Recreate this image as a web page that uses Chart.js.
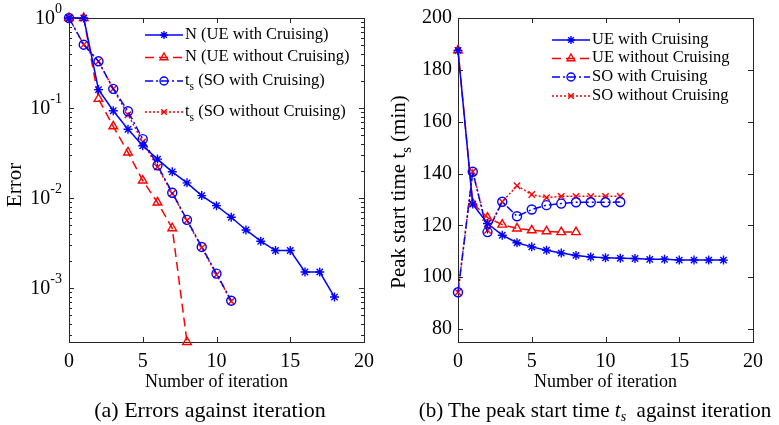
<!DOCTYPE html>
<html>
<head>
<meta charset="utf-8">
<script src="https://cdn.jsdelivr.net/npm/chart.js@4.4.1/dist/chart.umd.min.js"></script>
<style>
body{margin:0;background:#fff;width:779px;height:425px;overflow:hidden;position:relative;font-family:'Liberation Serif','Times New Roman',serif}
#ca{position:absolute;left:0;top:0}
#cb{position:absolute;left:390px;top:0}
.cap{position:absolute;top:397px;font-size:22px;line-height:26px;white-space:nowrap;transform:translateX(-50%);color:#000}
.cap sub{font-size:14px;vertical-align:-4px}
</style>
</head>
<body>
<canvas id="ca" width="390" height="425"></canvas>
<canvas id="cb" width="389" height="425"></canvas>
<div class="cap" style="left:210px">(a) Errors against iteration</div>
<div class="cap" style="left:595px;font-size:21px">(b) The peak start time <i>t<sub>s</sub></i>&nbsp; against iteration</div>
<script>
const FONT = "'Liberation Serif', 'Times New Roman', serif";
const BLUE = '#0000ff', RED = '#ff0000';

// ---- (a) errors ----
const labelsA = ['N (UE with Cruising)', 'N (UE without Cruising)', 't_s (SO with Cruising)', 't_s (SO without Cruising)'];
const iterUE = [0,1,2,3,4,5,6,7,8,9,10,11,12,13,14,15,16,17,18];
const errUE = [1, 1, 0.16, 0.093, 0.058, 0.038, 0.027, 0.0195, 0.0147, 0.0106, 0.0082, 0.0061, 0.0044, 0.0033, 0.0026, 0.0026, 0.0015, 0.0015, 0.00079];
const iterUEnc = [0,1,2,3,4,5,6,7,8];
const errUEnc = [1, 1, 0.126, 0.0625, 0.032, 0.0156, 0.0089, 0.0046, 0.00025];
const iterSO = [0,1,2,3,4,5,6,7,8,9,10,11];
const errSO = [1, 0.505, 0.33, 0.163, 0.092, 0.045, 0.023, 0.0114, 0.0057, 0.00285, 0.00144, 0.00072];
const errSOnc = [1, 0.505, 0.33, 0.163, 0.084, 0.042, 0.022, 0.0112, 0.0056, 0.0028, 0.0014, 0.00071];
const logTicks = [0.001, 0.01, 0.1, 1];

// ---- (b) peak start time ----
const labelsB = ['UE with Cruising', 'UE without Cruising', 'SO with Cruising', 'SO without Cruising'];
const tsUE = [187.5, 128.2, 120.7, 116.2, 113.3, 111.7, 110.4, 109.3, 108.4, 107.8, 107.5, 107.3, 107.2, 106.9, 106.9, 106.6, 106.6, 106.6, 106.6];
const tsUEnc = [187.5, 128.5, 123.0, 120.3, 118.8, 118.1, 117.7, 117.4, 117.4];
const tsSO = [94.2, 140.7, 117.4, 129.1, 123.5, 126.1, 127.8, 128.4, 128.9, 128.9, 128.9, 129.0];
const tsSOnc = [94.2, 140.7, 118.1, 129.1, 135.3, 131.9, 130.7, 131.2, 131.2, 131.2, 131.2, 131.3];
const yTicksB = [80, 100, 120, 140, 160, 180, 200];
const xTicks = [0, 5, 10, 15, 20];

const styles = [
  {color: BLUE, dash: [], point: 'star', r: 4.5},
  {color: RED, dash: [9, 5], point: 'triangle', r: 5},
  {color: BLUE, dash: [8, 3, 2, 3], point: 'circle', r: 4.5},
  {color: RED, dash: [2, 2], point: 'crossRot', r: 4.5}
];

function ds(label, xs, ys, s){
  return {label, data: xs.map((x,i)=>({x, y: ys[i]})), borderColor: s.color, backgroundColor: 'rgba(0,0,0,0)',
    borderDash: s.dash, borderWidth: 1.5, pointStyle: s.point, pointRadius: s.r, pointBorderColor: s.color,
    pointBackgroundColor: 'rgba(0,0,0,0)', pointBorderWidth: 1.4, tension: 0, fill: false, clip: false};
}

// text with "_s" subscripts
function richParts(str){
  const out = []; const bits = str.split('_s');
  bits.forEach((b,i)=>{ if(b) out.push({t:b, sub:false}); if(i<bits.length-1) out.push({t:'s', sub:true}); });
  return out;
}
function drawRich(ctx, str, x, y, fs, align){
  const parts = richParts(str);
  let w = 0;
  parts.forEach(p=>{ ctx.font = (p.sub ? fs*0.7 : fs) + 'px ' + FONT; p.w = ctx.measureText(p.t).width; w += p.w; });
  let cx = align === 'center' ? x - w/2 : x;
  ctx.textAlign = 'left'; ctx.textBaseline = 'middle';
  parts.forEach(p=>{
    ctx.font = (p.sub ? fs*0.7 : fs) + 'px ' + FONT;
    ctx.fillText(p.t, cx, p.sub ? y + fs*0.38 : y);
    cx += p.w;
  });
}

const matlabAxes = {
  id: 'matlabAxes',
  beforeDatasetsDraw(chart, args, o){
    const ctx = chart.ctx, a = chart.chartArea, xs = chart.scales.x, ys = chart.scales.y;
    ctx.save();
    ctx.strokeStyle = '#262626'; ctx.lineWidth = 1; ctx.setLineDash([]);
    ctx.strokeRect(a.left + 0.5, a.top + 0.5, a.right - a.left, a.bottom - a.top);
    ctx.beginPath();
    xs.ticks.forEach(t=>{ const px = Math.round(xs.getPixelForValue(t.value)) + 0.5;
      ctx.moveTo(px, a.bottom); ctx.lineTo(px, a.bottom - 5); ctx.moveTo(px, a.top); ctx.lineTo(px, a.top + 5); });
    ys.ticks.forEach(t=>{ const py = Math.round(ys.getPixelForValue(t.value)) + 0.5;
      ctx.moveTo(a.left, py); ctx.lineTo(a.left + 5, py); ctx.moveTo(a.right, py); ctx.lineTo(a.right - 5, py); });
    if (o.log){
      for (let d = -4; d <= 0; d++) for (let k = 2; k <= 9; k++){
        const v = k * Math.pow(10, d);
        if (v < ys.min || v > ys.max) continue;
        const py = Math.round(ys.getPixelForValue(v)) + 0.5;
        ctx.moveTo(a.left, py); ctx.lineTo(a.left + 3, py); ctx.moveTo(a.right, py); ctx.lineTo(a.right - 3, py);
      }
    }
    ctx.stroke();
    ctx.fillStyle = '#000';
    if (o.log){
      ys.ticks.forEach(t=>{
        const py = ys.getPixelForValue(t.value);
        const e = String(Math.round(Math.log10(t.value)));
        ctx.textAlign = 'right'; ctx.textBaseline = 'middle';
        ctx.font = '14px ' + FONT; const ew = ctx.measureText(e).width;
        ctx.fillText(e, a.left - 7, py - 9);
        ctx.font = '20px ' + FONT;
        ctx.fillText('10', a.left - 7 - ew, py + 1);
      });
    }
    // axis titles
    drawRich(ctx, o.xTitle, (a.left + a.right)/2, 382, 18, 'center');
    ctx.save(); ctx.translate(o.yTitleX, o.yTitleY); ctx.rotate(-Math.PI/2);
    drawRich(ctx, o.yTitle, 0, 0, o.yTitleSize, 'center');
    ctx.restore();
    ctx.restore();
  },
  afterDraw(chart, args, o){
    const ctx = chart.ctx;
    ctx.save();
    chart.data.datasets.forEach((d, i)=>{
      const s = styles[i], y = o.legendRows[i];
      ctx.strokeStyle = s.color; ctx.lineWidth = 1.5; ctx.setLineDash(s.dash);
      ctx.beginPath(); ctx.moveTo(o.legendX0, y); ctx.lineTo(o.legendX1, y); ctx.stroke();
      ctx.setLineDash([]);
      ctx.fillStyle = 'rgba(0,0,0,0)'; ctx.lineWidth = 1.4;
      Chart.helpers.drawPoint(ctx, {pointStyle: s.point, radius: s.r - 0.5, borderWidth: 1.4, rotation: 0}, (o.legendX0 + o.legendX1)/2, y);
      ctx.fillStyle = '#000';
      drawRich(ctx, d.label, o.legendX1 + 2, y - 0.5, o.legendSize, 'left');
    });
    ctx.restore();
  }
};

function makeChart(id, datasets, yScale, plug, padRight){
  return new Chart(document.getElementById(id), {
    type: 'line',
    data: {datasets},
    options: {
      responsive: false, animation: false, devicePixelRatio: 1,
      layout: {padding: {top: 18, right: padRight, left: 0, bottom: 0}},
      plugins: {legend: {display: false}, tooltip: {enabled: false}, matlabAxes: plug},
      scales: {
        x: {type: 'linear', min: 0, max: 20,
          afterBuildTicks: s => { s.ticks = xTicks.map(v=>({value: v})); },
          afterFit: s => { s.height = 83; },
          grid: {display: false, drawTicks: false}, border: {display: false},
          ticks: {color: '#000', font: {family: FONT, size: 20}, padding: 8, maxRotation: 0}},
        y: yScale
      }
    },
    plugins: [matlabAxes]
  });
}

makeChart('ca', [
  ds(labelsA[0], iterUE, errUE, styles[0]),
  ds(labelsA[1], iterUEnc, errUEnc, styles[1]),
  ds(labelsA[2], iterSO, errSO, styles[2]),
  ds(labelsA[3], iterSO, errSOnc, styles[3])
], {
  type: 'logarithmic', min: 0.00025, max: 1,
  afterBuildTicks: s => { s.ticks = logTicks.map(v=>({value: v})); },
  afterFit: s => { s.width = 69; },
  grid: {display: false, drawTicks: false}, border: {display: false},
  ticks: {display: false}
}, {log: true, xTitle: 'Number of iteration', yTitle: 'Error', yTitleX: 15, yTitleY: 185, yTitleSize: 21,
    legendX0: 145, legendX1: 183, legendRows: [35, 57.5, 81, 112], legendSize: 16.5}, 26);

makeChart('cb', [
  ds(labelsB[0], iterUE, tsUE, styles[0]),
  ds(labelsB[1], iterUEnc, tsUEnc, styles[1]),
  ds(labelsB[2], iterSO, tsSO, styles[2]),
  ds(labelsB[3], iterSO, tsSOnc, styles[3])
], {
  type: 'linear', min: 75, max: 200,
  afterBuildTicks: s => { s.ticks = yTicksB.map(v=>({value: v})); },
  afterFit: s => { s.width = 68; },
  grid: {display: false, drawTicks: false}, border: {display: false},
  ticks: {color: '#000', font: {family: FONT, size: 20}, padding: 6}
}, {log: false, xTitle: 'Number of iteration', yTitle: 'Peak start time t_s (min)', yTitleX: 9, yTitleY: 192, yTitleSize: 21,
    legendX0: 162, legendX1: 200, legendRows: [40, 58.5, 77, 96], legendSize: 16.5}, 26);
</script>
</body>
</html>
